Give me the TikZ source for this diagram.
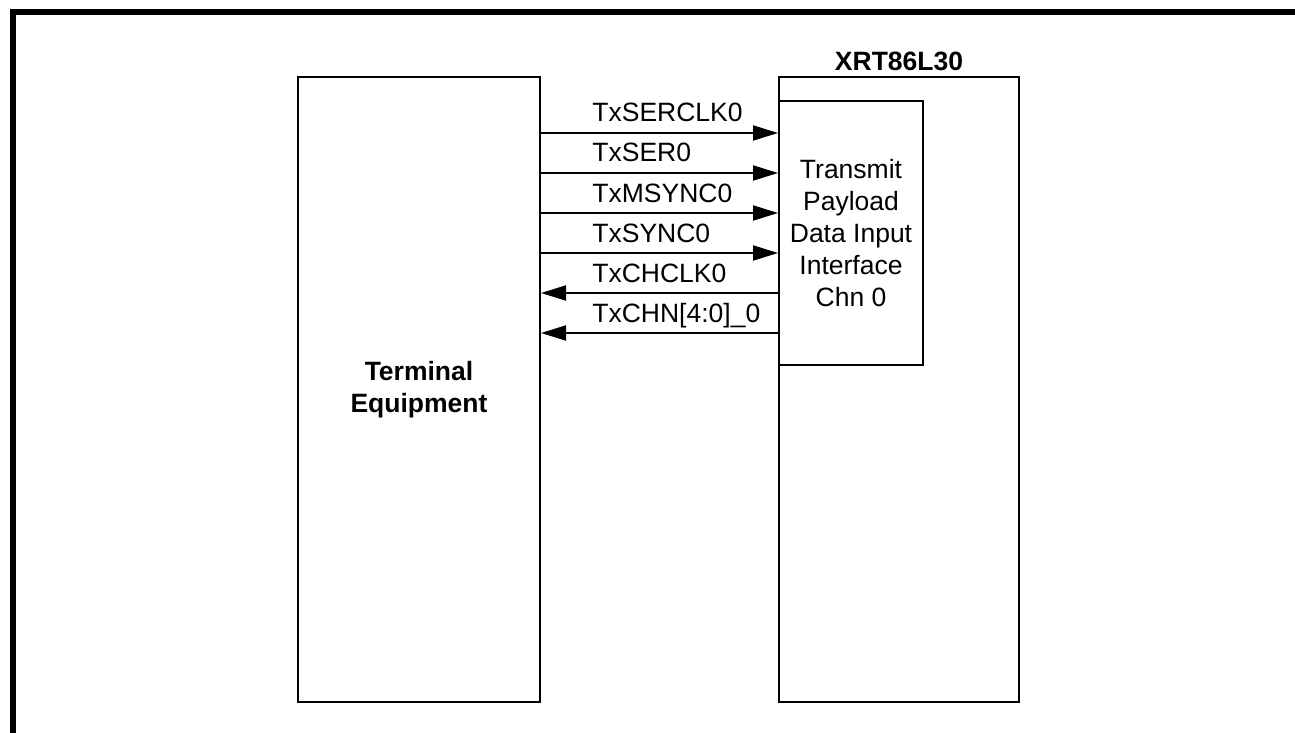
\documentclass[tikz,border=0pt]{standalone}
\usepackage{fontspec}
\setmainfont{Liberation Sans}
\usetikzlibrary{arrows.meta,positioning}
\newcommand{\sigfont}{\fontsize{13.25}{16}\selectfont}

\begin{document}
\begin{tikzpicture}[x=0.5pt,y=-0.5pt,
  block/.style={draw,line width=1pt,inner sep=0pt,align=center,font=\sigfont},
  sig/.style={line width=1pt,-{Triangle[length=12.5pt,width=7.5pt]}},
  lbl/.style={anchor=base west,inner sep=0pt,font=\sigfont}]
\useasboundingbox (0,0) rectangle (1295,733);
% Frame, top and left only
\draw[line width=3pt] (1295,12) -- (13,12) -- (13,733);
% Blocks
\node[block,font=\sigfont\bfseries,minimum width=121pt,minimum height=312.5pt] (term) at (419,389.5) {Terminal\\Equipment};
\node[block,minimum width=120pt,minimum height=312.5pt] (xrt) at (899,389.5) {};
\node[above=2.5pt of xrt,inner sep=0pt,font=\sigfont\bfseries] (title) {XRT86L30};
\node[block,minimum width=72pt,minimum height=132pt] (chan) at (851,233) {Transmit\\Payload\\Data Input\\Interface\\Chn 0};
% Inputs into the channel
\foreach \yy/\txt [count=\i] in {133/TxSERCLK0,173/TxSER0,213/TxMSYNC0,253/TxSYNC0}{
  \coordinate (in\i) at (0,\yy);
  \draw[sig] (term.east |- in\i) -- (chan.west |- in\i);
  \node[lbl] (inlbl\i) at (592,\yy-11) {\txt};
}
% Outputs back to the equipment
\foreach \yy/\txt [count=\i] in {293/TxCHCLK0,333/{TxCHN[4:0]\_0}}{
  \coordinate (out\i) at (0,\yy);
  \draw[sig] (chan.west |- out\i) -- (term.east |- out\i);
  \node[lbl] (outlbl\i) at (592,\yy-11) {\txt};
}
\end{tikzpicture}
\end{document}
